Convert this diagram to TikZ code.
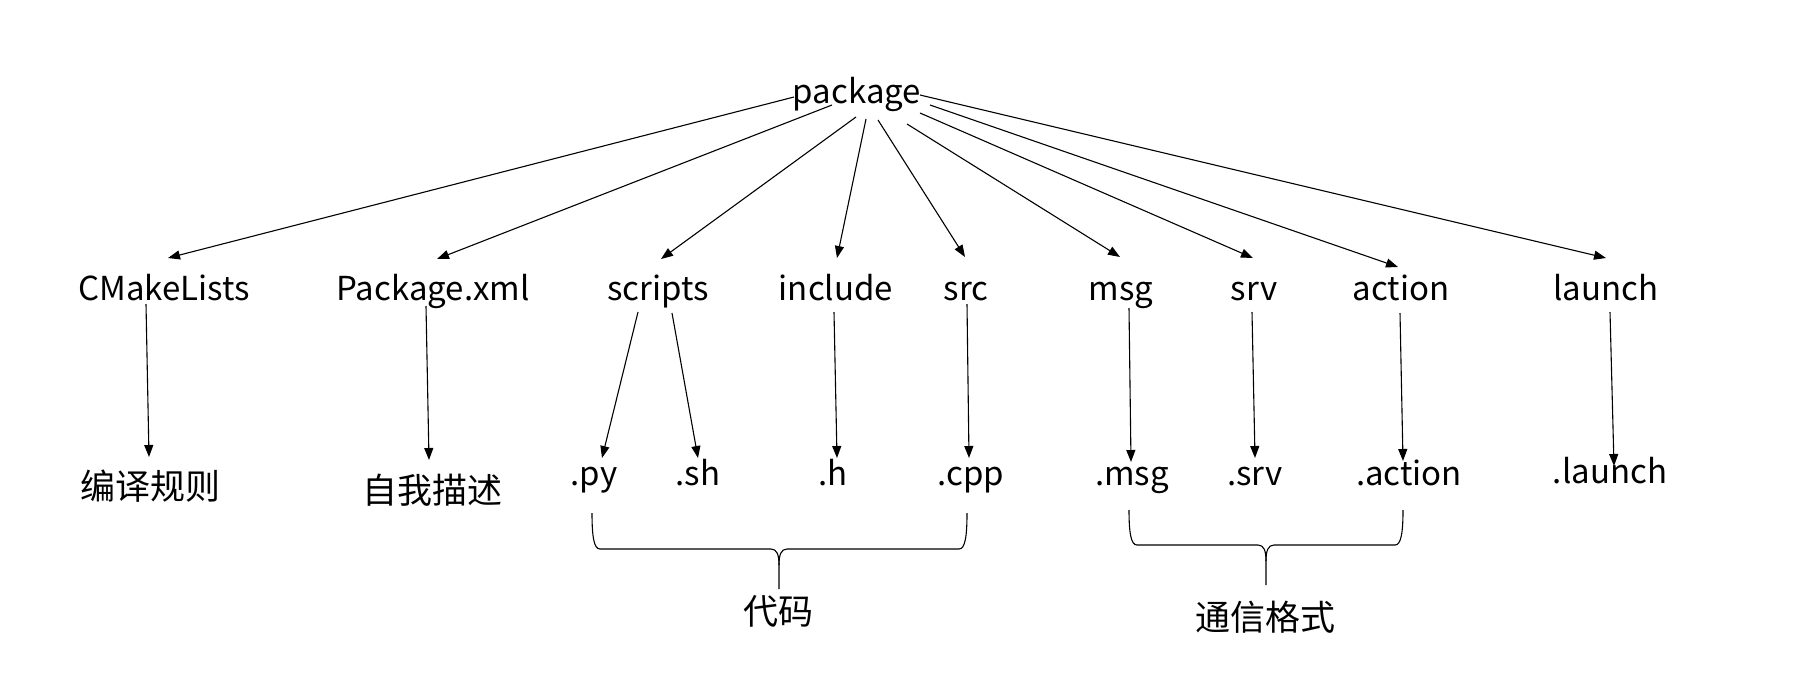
\documentclass[tikz,border=0pt]{standalone}
\usepackage{fontspec}
\setmainfont{Noto Sans CJK SC}
\usetikzlibrary{arrows.meta,calc}
\newcommand\curlyb[6]{% #1 xl, #2 xr, #3 ytop, #4 ymid, #5 xtip, #6 ytip
  \draw[bracel] (#1,#3) .. controls (#1,#4-12) and (#1+2,#4) .. (#1+8,#4)
    -- (#5-8,#4) .. controls (#5-2,#4) and (#5,#4+6) .. (#5,#4+16) -- (#5,#6);
  \draw[bracel] (#5,#4+16) .. controls (#5,#4+6) and (#5+2,#4) .. (#5+8,#4)
    -- (#2-8,#4) .. controls (#2-2,#4) and (#2,#4-12) .. (#2,#3);
}
\begin{document}
\begin{tikzpicture}[x=1pt,y=-1pt,
  lbl/.style={inner sep=0pt,anchor=base,font=\fontsize{33}{38}\selectfont},
  cjk/.style={inner sep=0pt,font=\fontsize{35}{42}\selectfont},
  conn/.style={line width=1.1pt,-{Triangle[length=12pt,width=9pt]}},
  bracel/.style={line width=1.1pt}]
\useasboundingbox[fill=white] (0,0) rectangle (1814,678);
% root
\node[lbl] (pkg) at (857,103) {package};
% level 1
\node[lbl] (cm)  at (164,300) {CMakeLists};
\node[lbl] (px)  at (433,300) {Package.xml};
\node[lbl] (sc)  at (658,300) {scripts};
\node[lbl] (inc) at (836,300) {include};
\node[lbl] (src) at (966,300) {src};
\node[lbl] (msg) at (1121,300) {msg};
\node[lbl] (srv) at (1254,300) {srv};
\node[lbl] (act) at (1401,300) {action};
\node[lbl] (lau) at (1606,300) {launch};
% level 2
\node[cjk] (bylz) at (150,486) {编译规则};
\node[cjk] (zwms) at (432,490) {自我描述};
\node[lbl] (py)   at (594,485) {.py};
\node[lbl] (sh)   at (698,485) {.sh};
\node[lbl] (hh)   at (833,485) {.h};
\node[lbl] (cpp)  at (971,485) {.cpp};
\node[lbl] (dmsg) at (1132,485) {.msg};
\node[lbl] (dsrv) at (1255,485) {.srv};
\node[lbl] (dact) at (1409,485) {.action};
\node[lbl] (dlau) at (1610,483) {.launch};
% groups
\node[cjk] (code) at (778,611) {代码};
\node[cjk] (comm) at (1265,617) {通信格式};
% root arrows
\draw[conn] ($(pkg.base)+(-63,-6)$) -- ($(cm.base)+(4,-42)$);
\draw[conn] ($(pkg.base)+(-25,2)$)  -- ($(px.base)+(4,-41)$);
\draw[conn] ($(pkg.base)+(-1,14)$)  -- ($(sc.base)+(3,-41)$);
\draw[conn] ($(pkg.base)+(9,16)$)   -- ($(inc.base)+(1,-42)$);
\draw[conn] ($(pkg.base)+(21,17)$)  -- ($(src.base)+(-1,-43)$);
\draw[conn] ($(pkg.base)+(50,21)$)  -- ($(msg.base)+(-1,-43)$);
\draw[conn] ($(pkg.base)+(63,10)$)  -- ($(srv.base)+(-1,-42)$);
\draw[conn] ($(pkg.base)+(73,2)$)   -- ($(act.base)+(-3,-33)$);
\draw[conn] ($(pkg.base)+(63,-8)$)  -- ($(lau.base)+(0,-42)$);
% level 1 -> level 2
\draw[conn] ($(cm.base)+(-18,4)$)  -- ($(bylz.center)+(-1,-29)$);
\draw[conn] ($(px.base)+(-7,6)$)   -- ($(zwms.center)+(-3,-30)$);
\draw[conn] ($(sc.base)+(-20,12)$) -- ($(py.base)+(8,-27)$);
\draw[conn] ($(sc.base)+(14,13)$)  -- ($(sh.base)+(0,-27)$);
\draw[conn] ($(inc.base)+(-2,12)$) -- ($(hh.base)+(4,-27)$);
\draw[conn] ($(src.base)+(1,4)$)   -- ($(cpp.base)+(-2,-27)$);
\draw[conn] ($(msg.base)+(8,8)$)   -- ($(dmsg.base)+(-1,-23)$);
\draw[conn] ($(srv.base)+(-2,12)$) -- ($(dsrv.base)+(0,-27)$);
\draw[conn] ($(act.base)+(-1,13)$) -- ($(dact.base)+(-6,-24)$);
\draw[conn] ($(lau.base)+(4,12)$)  -- ($(dlau.base)+(4,-17)$);
% braces
\curlyb{592}{967}{513}{549}{779}{589}
\curlyb{1129}{1403}{510}{545}{1266}{585}
\end{tikzpicture}
\end{document}
